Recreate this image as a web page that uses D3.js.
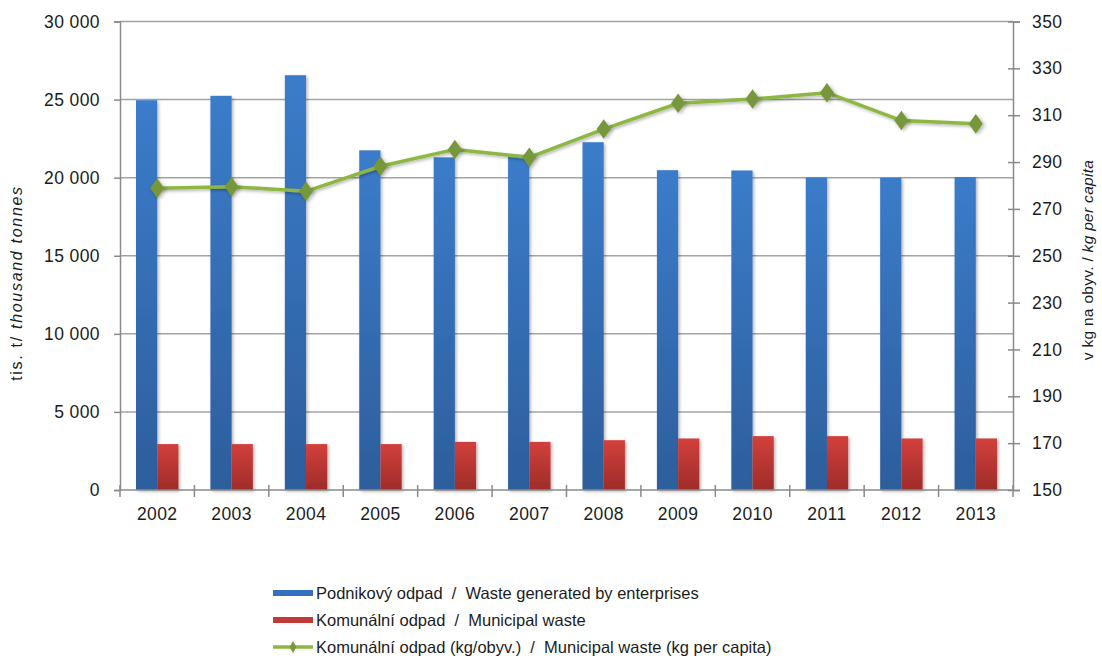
<!DOCTYPE html>
<html>
<head>
<meta charset="utf-8">
<script src="https://cdn.jsdelivr.net/npm/d3@7/dist/d3.min.js"></script>
<style>
  html, body { margin: 0; padding: 0; background: #fff; }
  svg { display: block; font-family: "Liberation Sans", Arial, sans-serif; }
</style>
</head>
<body>
<svg id="chart" width="1102" height="662"></svg>
<script>
const years = ["2002","2003","2004","2005","2006","2007","2008","2009","2010","2011","2012","2013"];
const enterpriseWaste = [24960, 25240, 26560, 21750, 21300, 21460, 22270, 20480, 20460, 20020, 20000, 20040];
const municipalWaste = [2940, 2940, 2940, 2940, 3080, 3080, 3190, 3300, 3450, 3450, 3300, 3300];
const municipalPerCapita = [278.8, 279.5, 277.5, 288.2, 295.4, 292.0, 304.1, 315.1, 316.9, 319.6, 307.7, 306.3];
const leftTicks = [0, 5000, 10000, 15000, 20000, 25000, 30000];
const rightTicks = [150, 170, 190, 210, 230, 250, 270, 290, 310, 330, 350];
const seriesNames = [
  "Podnikový odpad  /  Waste generated by enterprises",
  "Komunální odpad  /  Municipal waste",
  "Komunální odpad (kg/obyv.)  /  Municipal waste (kg per capita)"
];

const svg = d3.select("#chart");
const L = 120, R = 1013, T = 21.5, B = 490;
const gridColor = "#a3a3a3", axisColor = "#8a8a8a", textColor = "#1c1c1c";

const defs = svg.append("defs");
const gb = defs.append("linearGradient").attr("id","gBlue").attr("x1",0).attr("y1",0).attr("x2",0).attr("y2",1);
gb.append("stop").attr("offset","0%").attr("stop-color","#3b7cca");
gb.append("stop").attr("offset","100%").attr("stop-color","#2d5e9c");
const gr = defs.append("linearGradient").attr("id","gRed").attr("x1",0).attr("y1",0).attr("x2",0).attr("y2",1);
gr.append("stop").attr("offset","0%").attr("stop-color","#d2403c");
gr.append("stop").attr("offset","100%").attr("stop-color","#9e2c29");
const sh = defs.append("filter").attr("id","shadow").attr("x","-30%").attr("y","-30%").attr("width","160%").attr("height","160%");
sh.append("feDropShadow").attr("dx",1.5).attr("dy",1.5).attr("stdDeviation",1.5).attr("flood-color","#000").attr("flood-opacity",0.3);

const x = d3.scaleBand().domain(years).range([L, R]).paddingInner(0.43).paddingOuter(0.215);
const xs = d3.scaleBand().domain(["e","m"]).range([0, x.bandwidth()]);
const yL = d3.scaleLinear().domain([0, 30000]).range([B, T]);
const yR = d3.scaleLinear().domain([150, 350]).range([B, T]);

const loc = d3.formatLocale({decimal: ",", thousands: " ", grouping: [3], currency: ["", ""]});
const fmt = loc.format(",d");

// gridlines
svg.append("g").selectAll("line").data(leftTicks.filter(d => d > 0)).join("line")
  .attr("x1", L).attr("x2", R).attr("y1", d => yL(d)).attr("y2", d => yL(d))
  .attr("stroke", gridColor).attr("stroke-width", 1.5);

// bars
const bars = svg.append("g");
years.forEach((yr, i) => {
  bars.append("rect").attr("x", x(yr) + xs("e")).attr("width", xs.bandwidth())
    .attr("y", yL(enterpriseWaste[i])).attr("height", yL(0) - yL(enterpriseWaste[i]))
    .attr("fill", "url(#gBlue)").attr("filter", "url(#shadow)");
  bars.append("rect").attr("x", x(yr) + xs("m")).attr("width", xs.bandwidth())
    .attr("y", yL(municipalWaste[i])).attr("height", yL(0) - yL(municipalWaste[i]))
    .attr("fill", "url(#gRed)").attr("filter", "url(#shadow)");
});

// left axis
const ax = svg.append("g").attr("transform", `translate(${L},0)`)
  .call(d3.axisLeft(yL).tickValues(leftTicks).tickFormat(fmt).tickSize(6).tickPadding(14));
ax.select(".domain").attr("stroke", axisColor).attr("stroke-width", 1.5);
ax.selectAll(".tick line").attr("stroke", axisColor).attr("stroke-width", 1.5);
ax.selectAll(".tick text").attr("fill", textColor).style("font-size", "17.5px").style("letter-spacing", "0.4px");

// right axis
const ar = svg.append("g").attr("transform", `translate(${R},0)`)
  .call(d3.axisRight(yR).tickValues(rightTicks).tickFormat(d3.format("d")).tickSize(7).tickPadding(12));
ar.select(".domain").attr("stroke", axisColor).attr("stroke-width", 1.5);
ar.selectAll(".tick line").attr("x1", -5).attr("stroke", axisColor).attr("stroke-width", 1.5);
ar.selectAll(".tick text").attr("fill", textColor).style("font-size", "17.5px").style("letter-spacing", "0.4px");

// bottom axis
const gap = (x.step() - x.bandwidth()) / 2;
const bounds = years.map(d => x(d) - gap).concat([x(years[years.length - 1]) + x.bandwidth() + gap]);
svg.append("line").attr("x1", L).attr("x2", R).attr("y1", B).attr("y2", B).attr("stroke", axisColor).attr("stroke-width", 1.5);
svg.append("g").selectAll("line").data(bounds).join("line")
  .attr("x1", d => d).attr("x2", d => d).attr("y1", B - 5).attr("y2", B + 7)
  .attr("stroke", axisColor).attr("stroke-width", 1.5);
const ab = svg.append("g").attr("transform", `translate(0,${B})`)
  .call(d3.axisBottom(x).tickSize(0).tickPadding(18));
ab.select(".domain").remove();
ab.selectAll(".tick text").attr("fill", textColor).style("font-size", "17.5px").style("letter-spacing", "0.4px");

// line
const lineGen = d3.line().x((d, i) => x(years[i]) + x.bandwidth() / 2).y(d => yR(d));
svg.append("path").datum(municipalPerCapita).attr("d", lineGen)
  .attr("fill", "none").attr("stroke", "#8db642").attr("stroke-width", 3.5).attr("filter", "url(#shadow)");
const diamond = d3.symbol().type(d3.symbolDiamond).size(110);
svg.append("g").selectAll("path").data(municipalPerCapita).join("path")
  .attr("d", diamond)
  .attr("transform", (d, i) => `translate(${x(years[i]) + x.bandwidth() / 2},${yR(d)}) scale(1.25,1)`)
  .attr("fill", "#76983a").attr("filter", "url(#shadow)");

// axis titles
const lt = svg.append("text").attr("transform", "translate(22,283) rotate(-90)")
  .attr("text-anchor", "middle").attr("fill", textColor)
  .style("font-size", "16px").style("letter-spacing", "1.7px").style("white-space", "pre");
lt.append("tspan").text("tis. t/ ");
lt.append("tspan").style("font-style", "italic").text("thousand tonnes");
const rt = svg.append("text").attr("transform", "translate(1093,260) rotate(-90)")
  .attr("text-anchor", "middle").attr("fill", textColor)
  .style("font-size", "15.5px").style("letter-spacing", "0.3px").style("white-space", "pre");
rt.append("tspan").text("v kg na obyv. / ");
rt.append("tspan").style("font-style", "italic").text("kg per capita");

// legend
const lg = svg.append("g");
const rows = [593, 620, 647];
lg.append("line").attr("x1", 273).attr("x2", 313).attr("y1", rows[0]).attr("y2", rows[0]).attr("stroke", "#3570c0").attr("stroke-width", 6);
lg.append("line").attr("x1", 273).attr("x2", 313).attr("y1", rows[1]).attr("y2", rows[1]).attr("stroke", "#c23a37").attr("stroke-width", 6);
lg.append("line").attr("x1", 273).attr("x2", 313).attr("y1", rows[2]).attr("y2", rows[2]).attr("stroke", "#8db642").attr("stroke-width", 3.5);
lg.append("path").attr("d", d3.symbol().type(d3.symbolDiamond).size(40)).attr("transform", `translate(293,${rows[2]})`).attr("fill", "#76983a");
seriesNames.forEach((n, i) => {
  lg.append("text").attr("x", 316).attr("y", rows[i]).attr("dy", "0.36em")
    .attr("fill", textColor).style("font-size", "16.5px").style("white-space", "pre").text(n);
});
</script>
</body>
</html>
